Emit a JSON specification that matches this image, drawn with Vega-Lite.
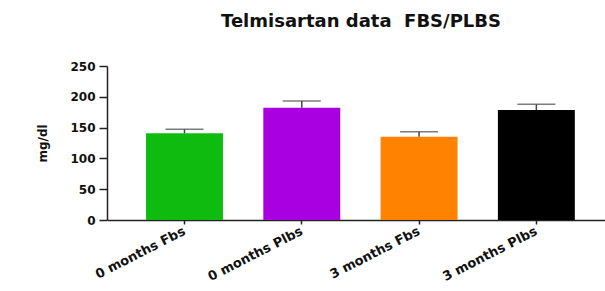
{
  "$schema": "https://vega.github.io/schema/vega-lite/v6.json",
  "width": 498,
  "height": 154,
  "autosize": {"type": "none"},
  "padding": {"left": 107, "top": 66, "right": 0, "bottom": 71},
  "background": "white",
  "title": {
    "text": "Telmisartan data\u00a0\u00a0FBS/PLBS",
    "font": "DejaVu Sans",
    "fontSize": 18,
    "fontWeight": "bold",
    "color": "#111",
    "anchor": "middle",
    "offset": 29,
    "dx": 5
  },
  "data": {
    "values": [
      {"group": "0 months Fbs", "mean": 140.7, "upper": 147.2},
      {"group": "0 months Plbs", "mean": 182.3, "upper": 193.2},
      {"group": "3 months Fbs", "mean": 135.2, "upper": 143.3},
      {"group": "3 months Plbs", "mean": 178.6, "upper": 187.8}
    ]
  },
  "config": {
    "view": {"stroke": null},
    "axis": {
      "labelFont": "DejaVu Sans",
      "labelFontWeight": "bold",
      "labelColor": "#111",
      "titleFont": "DejaVu Sans",
      "titleFontWeight": "bold",
      "titleColor": "#111",
      "domainColor": "#222",
      "tickColor": "#222",
      "domainWidth": 1.5,
      "tickWidth": 1.5,
      "grid": false
    }
  },
  "encoding": {
    "x": {
      "field": "group",
      "type": "nominal",
      "sort": null,
      "scale": {"paddingInner": 0.344, "paddingOuter": 0.295, "align": 0.564},
      "axis": {
        "title": null,
        "labelAngle": -27,
        "labelAlign": "right",
        "labelBaseline": "middle",
        "labelFontSize": 13,
        "labelPadding": 6,
        "tickSize": 4
      }
    }
  },
  "layer": [
    {
      "mark": {"type": "bar"},
      "encoding": {
        "y": {
          "field": "mean",
          "type": "quantitative",
          "scale": {"domain": [0, 250], "nice": false},
          "axis": {
            "title": "mg/dl",
            "titleFontSize": 12,
            "titlePadding": 20,
            "values": [0, 50, 100, 150, 200, 250],
            "labelOverlap": false,
            "labelFontSize": 12,
            "tickSize": 8,
            "labelPadding": 4
          }
        },
        "color": {
          "field": "group",
          "type": "nominal",
          "sort": null,
          "scale": {"range": ["#10bb10", "#a900e2", "#ff8200", "#000000"]},
          "legend": null
        }
      }
    },
    {
      "mark": {"type": "rule", "color": "#444", "strokeWidth": 1.5},
      "encoding": {
        "y": {
          "field": "mean",
          "type": "quantitative",
          "scale": {"domain": [0, 250], "nice": false},
          "axis": {
            "title": "mg/dl",
            "titleFontSize": 12,
            "titlePadding": 20,
            "values": [0, 50, 100, 150, 200, 250],
            "labelOverlap": false,
            "labelFontSize": 12,
            "tickSize": 8,
            "labelPadding": 4
          }
        },
        "y2": {"field": "upper"}
      }
    },
    {
      "mark": {"type": "tick", "color": "#444", "size": 38, "thickness": 1.5},
      "encoding": {
        "y": {
          "field": "upper",
          "type": "quantitative",
          "scale": {"domain": [0, 250], "nice": false},
          "axis": {
            "title": "mg/dl",
            "titleFontSize": 12,
            "titlePadding": 20,
            "values": [0, 50, 100, 150, 200, 250],
            "labelOverlap": false,
            "labelFontSize": 12,
            "tickSize": 8,
            "labelPadding": 4
          }
        }
      }
    }
  ]
}
